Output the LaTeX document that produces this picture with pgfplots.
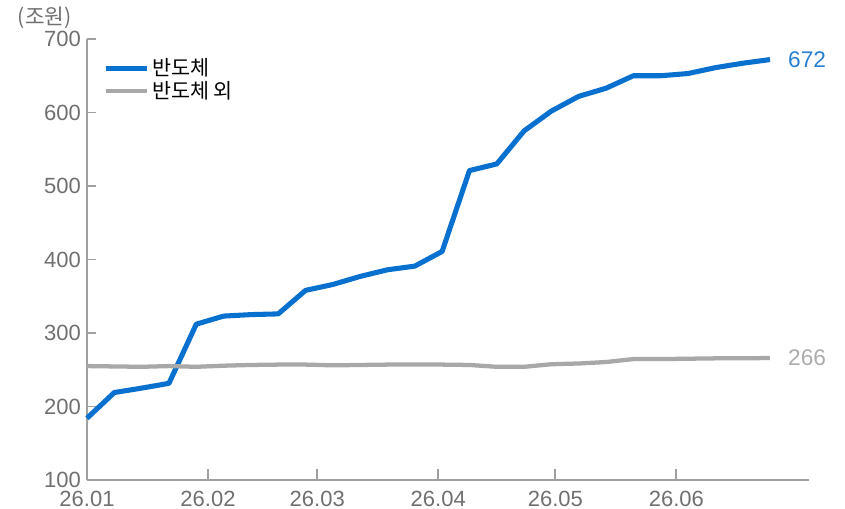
\documentclass[border=0pt]{standalone}
\usepackage{pgfplots}
\pgfplotsset{compat=1.18}
\usepackage{fontspec}
\setmainfont{Liberation Sans}
\newfontfamily\kr{Noto Sans CJK KR}

\definecolor{semiblue}{RGB}{8,112,206}
\definecolor{otherg}{RGB}{168,168,168}
\definecolor{axisg}{RGB}{160,160,160}
\definecolor{labelg}{RGB}{112,112,112}
\definecolor{endblue}{RGB}{40,128,212}
\definecolor{endgrey}{RGB}{172,172,172}

% weekly balances (trillion won); x = days since 2026-01-01
\pgfplotstableread{
x   semi   other
0   184    255
7   219    254.5
14  225    254
21  231.5  255
28  312    254
35  323    255.5
42  325    256.5
49  326    257
56  358    257
63  366    256
70  377    256.5
77  386    257
84  391    257
91  411    257
98  521    256.5
105 530    254
112 575    254
119 602    257.5
126 622    258.5
133 633    260.5
140 650    264.5
147 650    264.5
154 653    265
161 661    265.5
168 667    265.5
175 672    266
}\balances

\begin{document}
\begin{tikzpicture}
\begin{axis}[
  name=ax,
  anchor=south west,
  scale only axis,
  width=541.5pt, height=330.75pt,
  xmin=0, xmax=185,
  ymin=100, ymax=700,
  axis lines*=left,
  axis line style={draw=axisg, line width=1.3pt},
  xtick={0,31,59,90,120,151},
  xticklabels={26.01,26.02,26.03,26.04,26.05,26.06},
  ytick={100,200,...,700},
  tick align=inside,
  major tick length=6.75pt,
  xtick style={draw=axisg, line width=1.3pt, /pgfplots/major tick length=8.5pt},
  ytick style={draw=axisg, line width=1.3pt},
  /pgf/number format/assume math mode=true,
  tick label style={font=\fontsize{16.5}{19}\selectfont, text=labelg},
  x tick label style={yshift=-4.5pt},
  y tick label style={xshift=-1pt},
  clip=false,
  legend style={draw=none, fill=none, at={(rel axis cs:0.022,0.962)}, anchor=north west,
    font=\kr\fontsize{15.5}{16}\selectfont, row sep=-1.5pt, inner sep=0pt},
  legend cell align=left,
  legend image code/.code={\draw[#1] (0pt,0pt) -- (26pt,0pt);
    \path (0pt,0pt) -- (31pt,0pt);},
]
\addplot[semiblue, line width=3.8pt, line join=round] table[x=x, y=semi] {\balances};
\addlegendentry{반도체}
\addplot[otherg, line width=3.2pt, line join=round] table[x=x, y=other] {\balances};
\addlegendentry{반도체 외}

\node[anchor=west, text=endblue, font=\fontsize{17}{19}\selectfont, inner sep=0pt]
  at (axis cs:179.6,672) {672};
\node[anchor=west, text=endgrey, font=\fontsize{17}{19}\selectfont, inner sep=0pt]
  at (axis cs:179.6,266) {266};
\end{axis}
\node[anchor=south west, text=labelg, font=\kr\fontsize{16}{17}\selectfont, inner sep=0pt]
  at ([shift={(-52pt,338pt)}]ax.south west) {(조원)};
\pgfresetboundingbox
\path[use as bounding box] ([shift={(-65.25pt,-21.75pt)}]ax.south west)
  rectangle ([shift={(568.5pt,360pt)}]ax.south west);
\end{tikzpicture}
\end{document}
